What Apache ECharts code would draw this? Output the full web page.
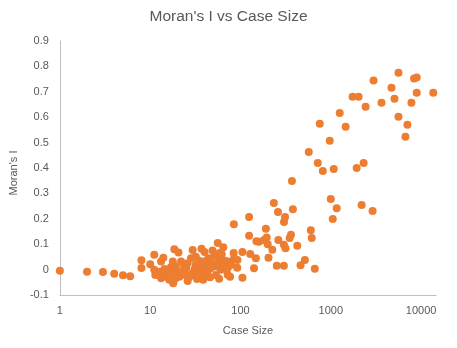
<!DOCTYPE html>
<html>
<head>
<meta charset="utf-8">
<script src="https://cdn.jsdelivr.net/npm/echarts@6/dist/echarts.min.js"></script>
<style>html,body{margin:0;padding:0;background:#fff;}#c{width:457px;height:348px;}</style>
</head>
<body>
<div id="c"></div>
<script>
const chartTitle = "Moran's I vs Case Size";
const xTitle = "Case Size";
const yTitle = "Moran's I";
const xTickLabels = [1, 10, 100, 1000, 10000];
const yTickLabels = [-0.1, 0, 0.1, 0.2, 0.3, 0.4, 0.5, 0.6, 0.7, 0.8, 0.9];

const caseSize = [
  1, 2, 3, 4, 5, 6, 8, 8, 10, 11.1, 13.2, 14, 11.1, 11.4, 12.7, 14.4, 15, 13.2,
  16.3, 18, 18.5, 17.8, 19.3, 18.5, 20.6, 17.8, 22, 23.8, 26, 28.3, 29.5, 22.9, 21, 26, 29.5, 32, 36.5, 34.9, 40.5, 33, 20, 16.3, 37, 40,
  49, 56, 64.5, 58.5, 51, 60.6, 65.6, 74, 78, 70.4, 60.6, 51, 45, 43, 33.6, 53.5, 46, 58, 54.4, 76.7, 84, 85, 92.5, 78.4, 92, 32, 40, 36.5, 47, 55.7, 28.3, 38.6,
  12, 15.5, 17, 19, 24, 25, 27, 31, 35, 42, 44, 62, 68, 72,
  105, 84.4, 124.5, 124.5, 150, 160, 182, 195, 200, 225, 204, 262, 302, 315, 350, 362, 425, 252, 302, 462, 516, 664, 141, 128, 105, 148, 600, 615, 191,
  234, 260, 311, 303, 380, 371, 570, 717, 815, 1077, 754, 973, 1254, 1459, 1742, 2031, 2427, 1932, 2307, 998, 1161, 1050, 2193, 2898, 2972, 3640, 4693, 5068, 5610, 5610, 7045, 6697, 7800, 8350, 8930, 8930, 13620
];
const moransI = [
  -0.005, -0.008, -0.009, -0.016, -0.022, -0.026, 0.037, 0.006, 0.021, 0.058, 0.032, 0.047, -0.001, -0.021, -0.008, 0.002, -0.021, -0.034,
  -0.04, -0.054, -0.014, 0.002, 0.012, 0.08, 0.067, 0.032, 0.032, 0.012, 0.025, 0.045, 0.077, -0.008, -0.028, -0.045, -0.014, 0.019, -0.001, 0.035, -0.028, -0.037, -0.008, -0.008, 0.082, 0.069,
  0.075, 0.105, 0.088, 0.065, 0.051, 0.041, 0.02, 0.012, 0.032, -0.001, -0.001, 0.019, 0.032, -0.008, -0.008, -0.021, -0.03, -0.036, 0.012, -0.028, 0.065, 0.045, 0.038, 0.019, 0.007, 0.051, 0.032, 0.012, 0.005, 0.025, -0.021, -0.04,
  -0.015, -0.03, 0.01, -0.035, -0.02, 0.005, -0.03, 0.002, -0.018, 0.01, 0.045, 0.06, 0.035, -0.02,
  -0.032, 0.179, 0.207, 0.133, 0.112, 0.11, 0.117, 0.126, 0.1, 0.078, 0.047, 0.117, 0.098, 0.084, 0.124, 0.137, 0.094, 0.015, 0.015, 0.017, 0.038, 0.003, 0.005, 0.061, 0.069, 0.045, 0.155, 0.124, 0.161,
  0.262, 0.227, 0.207, 0.187, 0.238, 0.349, 0.463, 0.42, 0.388, 0.396, 0.574, 0.507, 0.617, 0.562, 0.681, 0.681, 0.641, 0.4, 0.42, 0.278, 0.242, 0.199, 0.254, 0.231, 0.744, 0.657, 0.716, 0.673, 0.775, 0.602, 0.57, 0.523, 0.657, 0.752, 0.756, 0.696, 0.696
];

const points = caseSize.map((x, i) => [x, moransI[i]]);
const textColor = '#595959';
const axisColor = '#bfbfbf';
const font = 'Liberation Sans, Arial, sans-serif';

const chart = echarts.init(document.getElementById('c'), null, {renderer: 'canvas'});
chart.setOption({
  animation: false,
  backgroundColor: '#ffffff',
  title: {
    text: chartTitle,
    left: 'center',
    top: 4,
    textStyle: {color: textColor, fontSize: 15.5, fontWeight: 'normal', fontFamily: font}
  },
  grid: {left: 58, right: 21, top: 41, bottom: 53, containLabel: false},
  xAxis: {
    type: 'log',
    logBase: 10,
    min: xTickLabels[0],
    max: 14600,
    name: xTitle,
    nameLocation: 'middle',
    nameGap: 30,
    nameTextStyle: {color: textColor, fontSize: 11, fontFamily: font},
    axisLine: {show: true, onZero: false, lineStyle: {color: axisColor, width: 1}},
    axisTick: {show: false},
    splitLine: {show: false},
    axisLabel: {
      color: textColor, fontSize: 11, fontFamily: font, margin: 10,
      showMaxLabel: false,
      formatter: function (v) {
        const m = xTickLabels.find(t => Math.abs(t - v) / t < 1e-6);
        return m !== undefined ? String(m) : '';
      }
    }
  },
  yAxis: {
    type: 'value',
    min: yTickLabels[0],
    max: yTickLabels[yTickLabels.length - 1],
    interval: 0.1,
    name: yTitle,
    nameLocation: 'middle',
    nameGap: 35,
    nameTextStyle: {color: textColor, fontSize: 11, fontFamily: font, padding: [0, 10, 0, 0]},
    axisLine: {show: true, onZero: false, lineStyle: {color: axisColor, width: 1}},
    axisTick: {show: false},
    splitLine: {show: false},
    axisLabel: {
      color: textColor, fontSize: 11, fontFamily: font, margin: 11,
      formatter: function (v) { return String(Math.round(v * 10) / 10); }
    }
  },
  series: [{
    type: 'scatter',
    data: points,
    symbol: 'circle',
    symbolSize: 8,
    clip: false,
    itemStyle: {color: '#ED7D31', opacity: 1}
  }]
});
</script>
</body>
</html>
